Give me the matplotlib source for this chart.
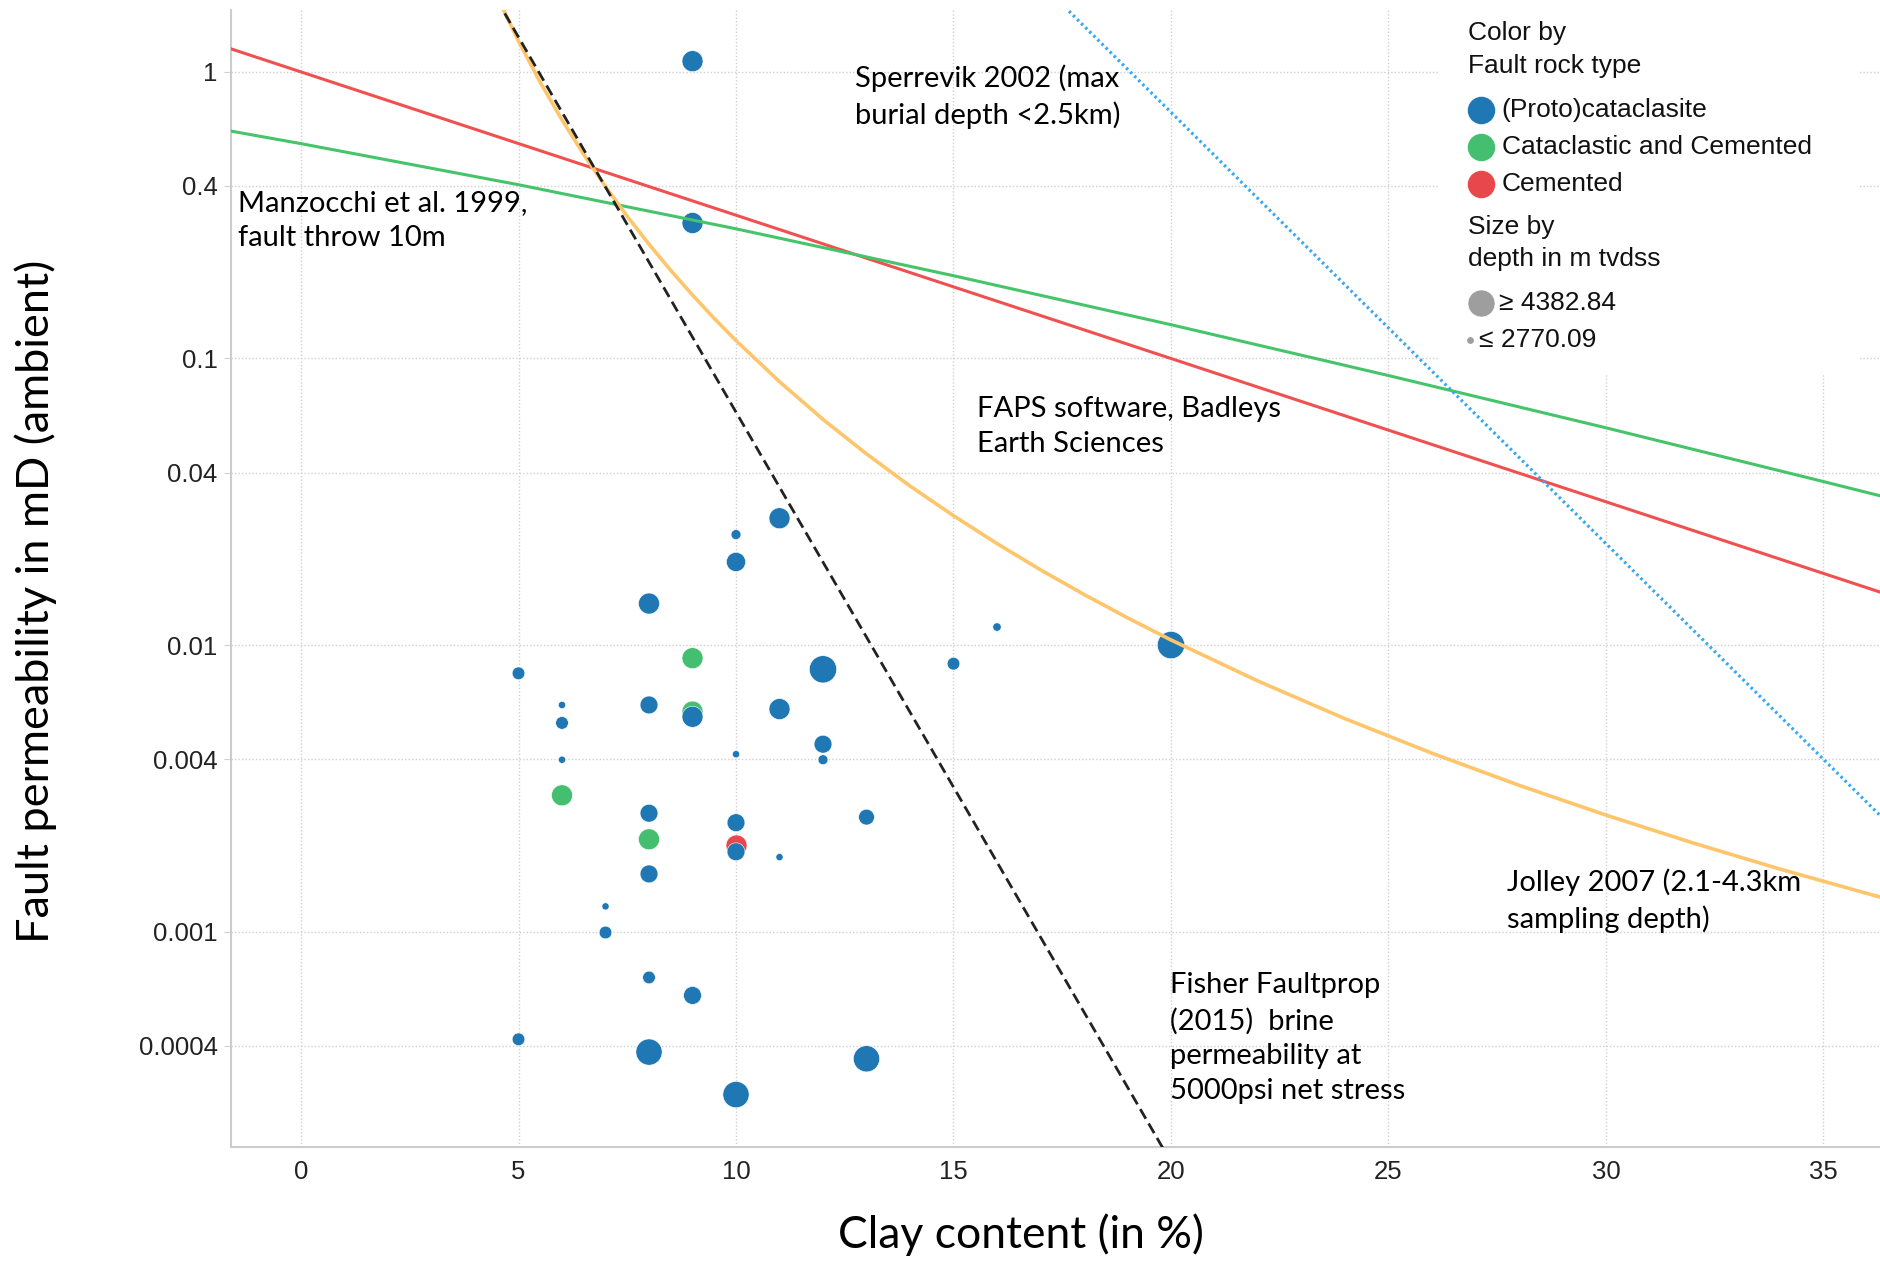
import matplotlib
matplotlib.use('Agg')
import matplotlib.pyplot as plt
from matplotlib.patches import Rectangle

# measured samples (clay %, permeability mD, depth m tvdss, fault rock type)
clay = [9, 9, 10, 11, 10, 8, 9, 12, 20, 15, 16, 5, 6, 6, 8, 9, 9, 11, 12, 10,
        6, 12, 6, 8, 13, 10, 8, 10, 10, 11, 8, 7, 7, 8, 9, 5, 8, 13, 10]
perm = [1.09, 0.297, 0.0243, 0.0277, 0.0195, 0.01396, 0.0090, 0.00823, 0.0100,
        0.00861, 0.01156, 0.00797, 0.00618, 0.00535, 0.00618, 0.00586, 0.00562,
        0.00598, 0.00451, 0.00416, 0.00398, 0.00398, 0.00299, 0.00259, 0.00251,
        0.00240, 0.00210, 0.00200, 0.00190, 0.00182, 0.00159, 0.001225, 0.000993,
        0.000692, 0.000599, 0.000421, 0.000380, 0.000360, 0.000270]
depth = [3694, 3694, 2913, 3694, 3530, 3694, 3694, 4383, 4383, 3056, 2850, 3056,
         2809, 3056, 3418, 3694, 3694, 3694, 3418, 2809, 2809, 2913, 3694, 3418,
         3258, 3418, 3694, 3694, 3418, 2809, 3418, 2809, 3056, 3056, 3418, 3056,
         4256, 4256, 4256]
rock = ['P', 'P', 'P', 'P', 'P', 'P', 'G', 'P', 'P', 'P', 'P', 'P', 'P', 'P', 'P',
        'G', 'P', 'P', 'P', 'P', 'P', 'P', 'G', 'P', 'P', 'P', 'G', 'C', 'P', 'P',
        'P', 'P', 'P', 'P', 'P', 'P', 'P', 'P', 'P']

# published trend lines
faps_clay = [-2, 40]
faps_perm = [1.259, 0.01]
manz_clay = [-2, 0, 5, 10, 15, 20, 25, 30, 35, 40]
manz_perm = [0.637, 0.562, 0.404, 0.2835, 0.1945, 0.1312, 0.0872, 0.0573, 0.0372, 0.0240]
jolley_clay = [4.5, 5, 5.5, 6, 6.5, 7, 7.5, 8, 8.5, 9, 9.5, 10, 11, 12, 13, 14, 15,
               16, 17, 18, 19, 20, 22, 24, 26, 28, 30, 32, 34, 37]
jolley_perm = [1.845, 1.28, 0.919, 0.680, 0.5149, 0.398, 0.3133, 0.2505, 0.2029,
               0.1665, 0.1379, 0.1155, 0.0830, 0.0613, 0.04647, 0.0359, 0.02828,
               0.0226, 0.01831, 0.01502, 0.01245, 0.01042, 0.00749, 0.005536,
               0.004194, 0.003242, 0.002551, 0.002040, 0.001653, 0.001233]
fisher_clay = [0, 20]
fisher_perm = [26.9, 1.57e-4]
sperrevik_clay = [15, 40]
sperrevik_perm = [4.09, 7.06e-4]

yticks = [1, 0.4, 0.1, 0.04, 0.01, 0.004, 0.001, 0.0004]
ytick_labels = ['1', '0.4', '0.1', '0.04', '0.01', '0.004', '0.001', '0.0004']
xticks = [0, 5, 10, 15, 20, 25, 30, 35]

rock_colors = {'P': '#1F77B4', 'G': '#44BF70', 'C': '#E8474B'}
rock_names = {'P': '(Proto)cataclasite', 'G': 'Cataclastic and Cemented', 'C': 'Cemented'}
DEPTH_MIN, DEPTH_MAX = 2770.09, 4382.84
S_MIN, S_MAX = 18.0, 385.0


def marker_size(d):
    return S_MIN + (d - DEPTH_MIN) / (DEPTH_MAX - DEPTH_MIN) * (S_MAX - S_MIN)


TICK_FONT = 'Liberation Sans'
NOTE_FONT = 'Lato'

fig = plt.figure(figsize=(18.8, 12.63), dpi=100)
ax = fig.add_axes([0.1231, 0.0915, 0.8769, 0.9009])
ax.set_yscale('log')
ax.set_xlim(-1.6, 36.3)
ax.set_ylim(1.766e-4, 1.65)

ax.set_xticks(xticks)
ax.set_xticklabels([str(t) for t in xticks], fontname=TICK_FONT, fontsize=18.5, color='#222222')
ax.set_yticks(yticks)
ax.set_yticklabels(ytick_labels, fontname=TICK_FONT, fontsize=18.5, color='#222222')
ax.yaxis.set_minor_locator(matplotlib.ticker.NullLocator())
ax.tick_params(axis='x', length=0, pad=9)
ax.tick_params(axis='y', length=5, color='#D0D0D0', pad=5)

ax.grid(True, color='#D0D0D0', linestyle=(0, (1, 1.5)), linewidth=1.0)
ax.set_axisbelow(True)
for side in ['top', 'right']:
    ax.spines[side].set_visible(False)
for side in ['left', 'bottom']:
    ax.spines[side].set_color('#CCCCCC')
    ax.spines[side].set_linewidth(1.5)

# white area behind the legend hides the grid there
ax.add_patch(Rectangle((26.15, 0.0874), 9.7, 5.0, facecolor='white',
                       edgecolor='none', zorder=1))

for key in ['G', 'C', 'P']:
    xs = [c for c, r in zip(clay, rock) if r == key]
    ys = [p for p, r in zip(perm, rock) if r == key]
    ss = [marker_size(d) for d, r in zip(depth, rock) if r == key]
    ax.scatter(xs, ys, s=ss, color=rock_colors[key], edgecolors='white',
               linewidths=0.4, zorder=3)

ax.plot(faps_clay, faps_perm, color='#F0504F', lw=2.2, zorder=4)
ax.plot(manz_clay, manz_perm, color='#45C46A', lw=2.2, zorder=4)
ax.plot(jolley_clay, jolley_perm, color='#FFC56B', lw=2.6, zorder=4)
ax.plot(fisher_clay, fisher_perm, color='#222222', lw=2.0, linestyle=(0, (4, 2)), zorder=5)
ax.plot(sperrevik_clay, sperrevik_perm, color='#3AA8F0', lw=2.3,
        linestyle=(0, (0.8, 1.0)), zorder=4)

note = dict(fontname=NOTE_FONT, fontsize=21, ha='left', va='center',
            linespacing=1.42, color='black', zorder=6)
ax.text(12.73, 0.817, 'Sperrevik 2002 (max\nburial depth <2.5km)', **note)
ax.text(-1.46, 0.304, 'Manzocchi et al. 1999,\nfault throw 10m', **note)
ax.text(15.54, 0.058, 'FAPS software, Badleys\nEarth Sciences', **note)
ax.text(19.98, 4.245e-4, 'Fisher Faultprop\n(2015)  brine\npermeability at\n5000psi net stress', **note)
ax.text(27.72, 1.285e-3, 'Jolley 2007 (2.1-4.3km\nsampling depth)', **note)

fig.text(36 / 1880, 0.524, 'Fault permeability in mD (ambient)', rotation=90,
         fontname=NOTE_FONT, fontsize=32.5, ha='center', va='center')
fig.text(0.543, 0.0222, 'Clay content (in %)', fontname=NOTE_FONT, fontsize=32,
         ha='center', va='center')

# legend panel, laid out in pixel units of the box
lg = fig.add_axes([1438 / 1880, 1 - 375 / 1263, 422 / 1880, 375 / 1263])
lg.set_xlim(0, 422)
lg.set_ylim(375, 0)
lg.axis('off')
lt = dict(fontname=TICK_FONT, fontsize=19, va='center', ha='left', color='#111111')
lg.text(30, 33, 'Color by', **lt)
lg.text(30, 66, 'Fault rock type', **lt)
for i, key in enumerate(['P', 'G', 'C']):
    yy = 110 + i * 37.2
    lg.scatter([43], [yy], s=(28 * 0.72) ** 2, color=rock_colors[key], edgecolors='white', linewidths=0.4)
    lg.text(63.7, yy, rock_names[key], **lt)
lg.text(30, 226.7, 'Size by', **lt)
lg.text(30, 259, 'depth in m tvdss', **lt)
lg.scatter([43], [302.7], s=(27 * 0.72) ** 2, color='#9E9E9E', edgecolors='white', linewidths=0.4)
lg.text(61, 302.7, '\u2265 4382.84', **lt)
lg.scatter([32], [340], s=(5.4 * 0.72) ** 2, color='#9E9E9E')
lg.text(41, 340, '\u2264 2770.09', **lt)

fig.savefig('out.png', dpi=100)
plt.close(fig)
